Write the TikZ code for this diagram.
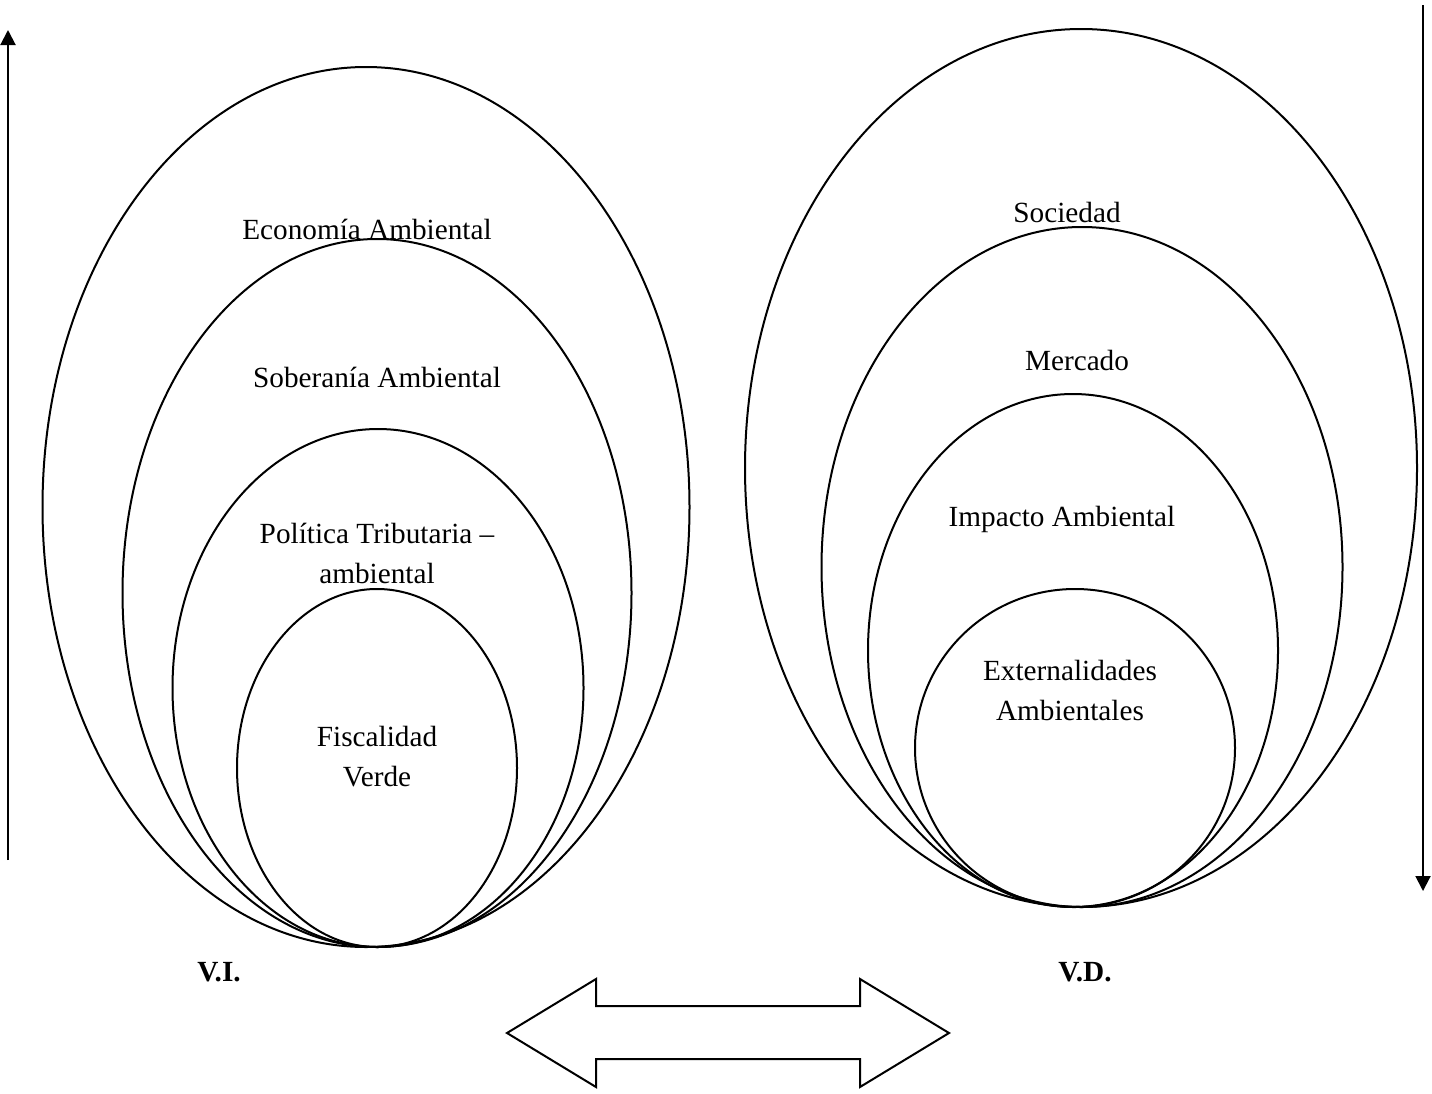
\documentclass[tikz,border=0pt]{standalone}
\usepackage{fontspec}
\setmainfont{Liberation Serif}
\usetikzlibrary{shapes.geometric,arrows.meta}
\tikzset{
  ring/.style args={#1/#2}{draw, ellipse, line width=0.8pt, inner sep=0pt,
    anchor=south, minimum width={#1*0.4pt}, minimum height={#2*0.4pt}},
  lbl/.style={font=\fontsize{11.7}{16}\selectfont, align=center},
  axis/.style={line width=0.8pt, -{Triangle[length=6pt,width=6pt]}}
}
\begin{document}
\begin{tikzpicture}[x=0.4pt,y=-0.4pt]
      \useasboundingbox (0,0) rectangle (1432,1093);
      % left group
      \node[ring=647/880] (eco) at (366,948) {};
      \node[ring=509/708] (sob) at (377,948) {};
      \node[ring=411/518] (pol) at (378,948) {};
      \node[ring=280/358] (fis) at (377,948) {};
      % right group
      \node[ring=672/878] (soc) at (1081,908) {};
      \node[ring=521/680] (mer) at (1082,908) {};
      \node[ring=410/513] (imp) at (1073,908) {};
      \node[ring=320/318] (ext) at (1075,908) {};
      \draw
        (367,229) node[lbl] (ecot){Economía Ambiental}
        (377,377) node[lbl] (sobt){Soberanía Ambiental}
        (377,553) node[lbl] (polt){Política Tributaria –\\ambiental}
        (377,757) node[lbl] (fist){Fiscalidad\\Verde}
        (1067,212) node[lbl] (soct){Sociedad}
        (1077,360) node[lbl] (mert){Mercado}
        (1062,519) node[lbl] (impt){Impacto Ambiental}
        (1070,690) node[lbl] (extt){Externalidades\\Ambientales}
        (219,972) node[lbl,font=\fontsize{11.7}{16}\selectfont\bfseries] (vi){V.I.}
        (1085,972) node[lbl,font=\fontsize{11.7}{16}\selectfont\bfseries] (vd){V.D.};
      \coordinate (upfoot) at (8,860);
      \coordinate (uptip) at (8,30);
      \coordinate (downtop) at (1423,5);
      \coordinate (downtip) at (1423,891);
      \draw[axis] (upfoot) -- (uptip);
      \draw[axis] (downtop) -- (downtip);
      % double arrow
      \draw[line width=0.8pt, line join=miter]
        (507,1033) -- (596,979) -- (596,1006) -- (860,1006) -- (860,979)
        -- (949,1033) -- (860,1087) -- (860,1059) -- (596,1059) -- (596,1087) -- cycle;
    \end{tikzpicture}
\end{document}
